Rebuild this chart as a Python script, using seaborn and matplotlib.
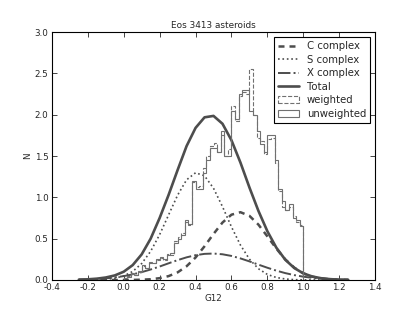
import numpy as np
import pandas as pd
import seaborn as sns
import matplotlib
matplotlib.use("Agg")
import matplotlib.pyplot as plt

# G12 grid for the model curves
g12 = [-0.25, -0.20, -0.15, -0.10, -0.05, 0.00, 0.05, 0.10, 0.15, 0.20,
       0.25, 0.30, 0.35, 0.40, 0.45, 0.50, 0.55, 0.60, 0.65, 0.70,
       0.75, 0.80, 0.85, 0.90, 0.95, 1.00, 1.05, 1.10, 1.15, 1.20, 1.25]

c_complex = [0.0, 0.0, 0.0, 0.0, 0.0, 0.0004, 0.0012, 0.0035, 0.009, 0.022,
             0.047, 0.092, 0.166, 0.272, 0.408, 0.557, 0.695, 0.790, 0.820, 0.776,
             0.670, 0.527, 0.379, 0.248, 0.149, 0.081, 0.040, 0.018, 0.008, 0.003, 0.001]

s_complex = [0.0003, 0.0009, 0.003, 0.008, 0.021, 0.049, 0.103, 0.199, 0.347, 0.549,
             0.788, 1.026, 1.212, 1.297, 1.260, 1.110, 0.887, 0.642, 0.422, 0.252,
             0.136, 0.067, 0.030, 0.012, 0.004, 0.0015, 0.0004, 0.0001, 0.0, 0.0, 0.0]

x_complex = [0.004, 0.007, 0.012, 0.020, 0.031, 0.047, 0.068, 0.095, 0.127, 0.163,
             0.202, 0.240, 0.274, 0.300, 0.316, 0.320, 0.311, 0.291, 0.261, 0.225,
             0.186, 0.148, 0.113, 0.083, 0.059, 0.040, 0.026, 0.016, 0.010, 0.006, 0.003]

total = [0.004, 0.008, 0.016, 0.030, 0.055, 0.100, 0.180, 0.310, 0.500, 0.750,
         1.030, 1.330, 1.620, 1.840, 1.968, 1.985, 1.890, 1.690, 1.420, 1.119,
         0.836, 0.589, 0.390, 0.244, 0.144, 0.080, 0.042, 0.021, 0.010, 0.004, 0.002]

# histogram bins of width 0.02 between 0 and 1
bin_edges = [round(0.02 * i, 2) for i in range(51)]
unweighted = [0.02, 0.04, 0.08, 0.06, 0.10, 0.18, 0.15, 0.22, 0.20, 0.25,
              0.28, 0.25, 0.30, 0.33, 0.45, 0.50, 0.55, 0.72, 0.68, 1.20,
              1.10, 1.10, 1.30, 1.45, 1.60, 1.60, 1.55, 1.80, 1.50, 1.50,
              2.05, 1.95, 2.25, 2.30, 2.30, 2.05, 2.00, 1.80, 1.65, 1.55,
              1.75, 1.75, 1.45, 1.10, 0.95, 0.85, 0.92, 0.75, 0.72, 0.65]
weighted = [0.02, 0.05, 0.07, 0.06, 0.11, 0.17, 0.14, 0.21, 0.21, 0.24,
            0.27, 0.24, 0.32, 0.30, 0.47, 0.52, 0.57, 0.70, 0.66, 1.18,
            1.12, 1.14, 1.35, 1.50, 1.62, 1.66, 1.55, 1.75, 1.50, 1.58,
            2.10, 1.92, 2.22, 2.28, 2.25, 2.55, 2.00, 1.72, 1.68, 1.52,
            1.70, 1.72, 1.42, 1.08, 0.88, 0.85, 0.88, 0.78, 0.70, 0.67]

curves = pd.DataFrame({"G12": g12, "C": c_complex, "S": s_complex,
                       "X": x_complex, "Total": total})
centers = [(a + b) / 2 for a, b in zip(bin_edges[:-1], bin_edges[1:])]

sns.set_style("ticks", {"xtick.direction": "in", "ytick.direction": "in",
                        "axes.edgecolor": "black"})
plt.rcParams["font.family"] = ["DejaVu Sans"]
plt.rcParams["xtick.top"] = True
plt.rcParams["ytick.right"] = True

fig = plt.figure(figsize=(4.15, 3.12), dpi=100)
ax = fig.add_axes([0.125, 0.1026, 0.779, 0.7948])

dark = "#4d4d4d"
sns.lineplot(data=curves, x="G12", y="C", ax=ax, color=dark, lw=1.8,
             dashes=(2.4, 2.0), label="C complex")
sns.lineplot(data=curves, x="G12", y="S", ax=ax, color=dark, lw=1.2,
             linestyle=":", label="S complex")
sns.lineplot(data=curves, x="G12", y="X", ax=ax, color=dark, lw=1.4,
             linestyle="-.", label="X complex")
sns.lineplot(data=curves, x="G12", y="Total", ax=ax, color=dark, lw=1.9,
             label="Total")

ax.hist(centers, bins=bin_edges, weights=weighted, histtype="step",
        color="#707070", lw=0.8, linestyle="--", label="weighted")
ax.hist(centers, bins=bin_edges, weights=unweighted, histtype="step",
        color="#707070", lw=0.8, label="unweighted")

ax.set_xlim(-0.4, 1.4)
ax.set_ylim(0, 3.0)
ax.set_xticks(np.arange(-0.4, 1.41, 0.2))
ax.set_yticks(np.arange(0, 3.01, 0.5))
ax.xaxis.set_major_formatter(matplotlib.ticker.FormatStrFormatter("%.1f"))
ax.yaxis.set_major_formatter(matplotlib.ticker.FormatStrFormatter("%.1f"))
ax.tick_params(labelsize=6.3, length=3.5, width=0.6, pad=2.5)
for s in ax.spines.values():
    s.set_linewidth(0.8)

ax.set_title("Eos 3413 asteroids", fontsize=6.4, pad=3)
ax.set_xlabel("G12", fontsize=6.3, labelpad=1)
ax.set_ylabel("N", fontsize=6.3, labelpad=2)

leg = ax.legend(loc="upper right", fontsize=7.3, fancybox=False,
                framealpha=1, edgecolor="black", borderaxespad=0.5,
                labelspacing=0.35, handlelength=2.0, borderpad=0.4)
leg.get_frame().set_linewidth(0.8)

fig.savefig("out.png", dpi=100)
